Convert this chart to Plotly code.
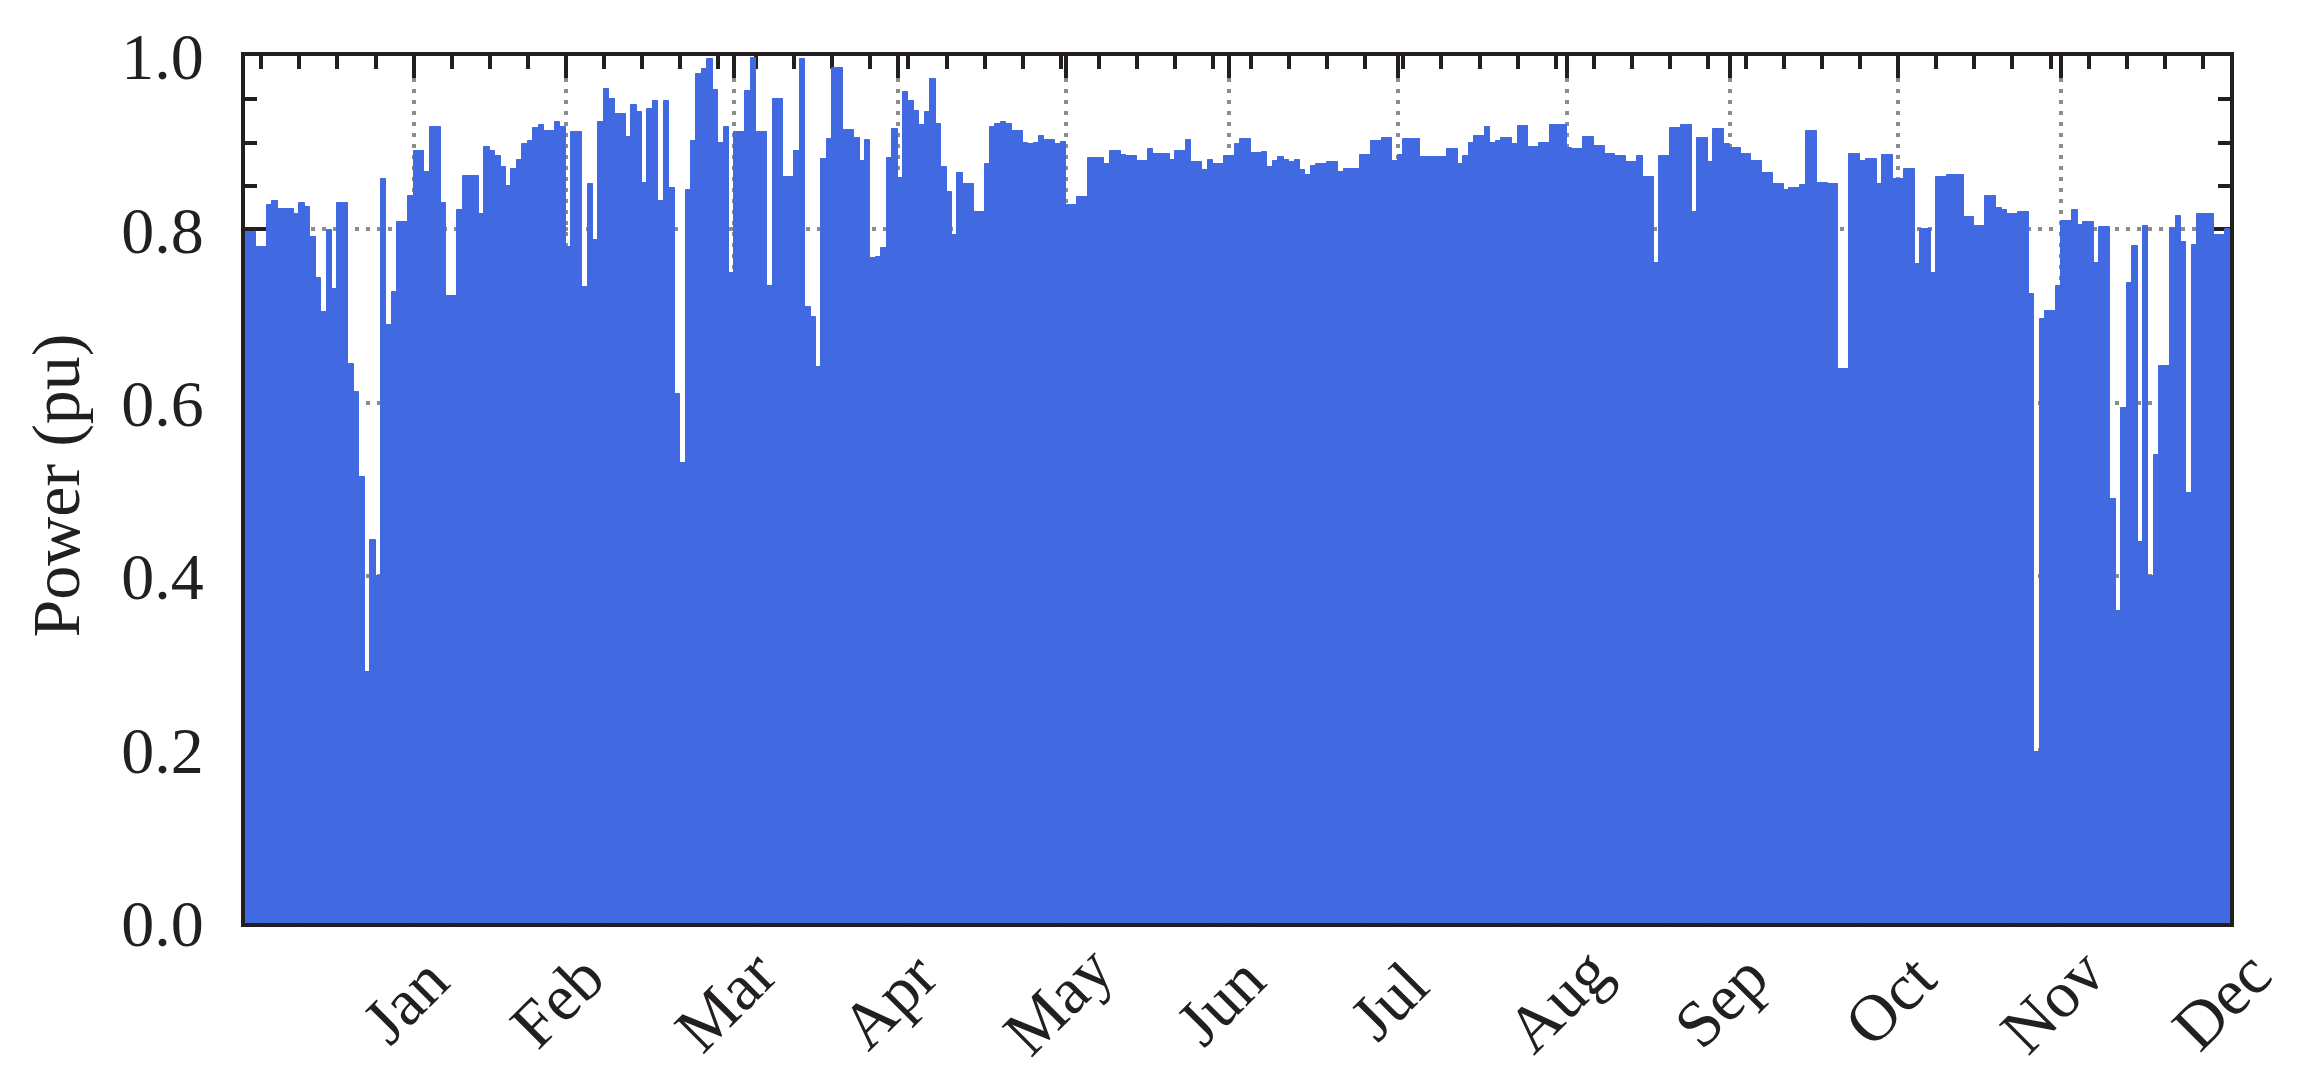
import pandas as pd
import plotly.graph_objects as go

# Daily peak power (pu), one list per month (2021, non-leap)
jan = [0.797, 0.797, 0.78, 0.78, 0.828, 0.833, 0.824, 0.824, 0.824, 0.818, 0.831, 0.826, 0.791, 0.744, 0.705,
       0.799, 0.731, 0.831, 0.831, 0.645, 0.613, 0.514, 0.29, 0.442, 0.40, 0.858, 0.69, 0.728, 0.809, 0.809, 0.838]
feb = [0.89, 0.89, 0.866, 0.918, 0.918, 0.831, 0.723, 0.723, 0.822, 0.862, 0.862, 0.862, 0.818, 0.895,
       0.89, 0.885, 0.872, 0.85, 0.87, 0.88, 0.898, 0.902, 0.917, 0.92, 0.913, 0.913, 0.924, 0.918]
mar = [0.78, 0.912, 0.912, 0.734, 0.852, 0.788, 0.924, 0.962, 0.95, 0.933, 0.933, 0.907, 0.944, 0.935, 0.854,
       0.939, 0.948, 0.833, 0.948, 0.848, 0.61, 0.53, 0.845, 0.902, 0.979, 0.985, 0.996, 0.961, 0.9, 0.918, 0.75]
apr = [0.912, 0.912, 0.96, 0.998, 0.912, 0.912, 0.735, 0.95, 0.95, 0.861, 0.861, 0.891, 0.996, 0.711, 0.699,
       0.641, 0.881, 0.904, 0.986, 0.986, 0.915, 0.915, 0.905, 0.879, 0.903, 0.767, 0.768, 0.778, 0.882, 0.916]
may = [0.859, 0.959, 0.948, 0.937, 0.92, 0.935, 0.974, 0.922, 0.872, 0.843, 0.794, 0.865, 0.852, 0.852, 0.82,
       0.82, 0.876, 0.918, 0.922, 0.924, 0.922, 0.914, 0.914, 0.9, 0.898, 0.9, 0.908, 0.903, 0.903, 0.899, 0.901]
jun = [0.828, 0.828, 0.837, 0.837, 0.882, 0.882, 0.882, 0.876, 0.891, 0.891, 0.886, 0.885, 0.885, 0.879, 0.879,
       0.893, 0.887, 0.887, 0.887, 0.88, 0.891, 0.891, 0.903, 0.878, 0.878, 0.868, 0.88, 0.875, 0.875, 0.885]
jul = [0.885, 0.899, 0.904, 0.904, 0.888, 0.888, 0.889, 0.872, 0.879, 0.884, 0.88, 0.878, 0.88, 0.868, 0.863,
       0.873, 0.875, 0.875, 0.878, 0.878, 0.866, 0.87, 0.87, 0.87, 0.886, 0.886, 0.902, 0.902, 0.906, 0.906, 0.879]
aug = [0.886, 0.904, 0.904, 0.904, 0.884, 0.884, 0.883, 0.883, 0.883, 0.893, 0.893, 0.875, 0.885, 0.9, 0.908,
       0.908, 0.918, 0.90, 0.902, 0.906, 0.906, 0.898, 0.919, 0.919, 0.895, 0.895, 0.9, 0.9, 0.92, 0.92, 0.92]
sep = [0.894, 0.893, 0.893, 0.907, 0.907, 0.896, 0.896, 0.887, 0.887, 0.885, 0.885, 0.878, 0.878, 0.885, 0.861,
       0.861, 0.761, 0.885, 0.885, 0.917, 0.917, 0.92, 0.92, 0.82, 0.905, 0.905, 0.878, 0.916, 0.916, 0.899]
oct_ = [0.894, 0.894, 0.887, 0.887, 0.879, 0.879, 0.865, 0.865, 0.852, 0.852, 0.845, 0.848, 0.848, 0.851, 0.913,
        0.913, 0.854, 0.854, 0.852, 0.852, 0.639, 0.639, 0.887, 0.887, 0.879, 0.881, 0.881, 0.852, 0.886, 0.886, 0.858]
nov = [0.858, 0.87, 0.87, 0.76, 0.8, 0.8, 0.75, 0.861, 0.861, 0.863, 0.863, 0.863, 0.814, 0.814, 0.804,
       0.804, 0.838, 0.838, 0.825, 0.822, 0.818, 0.818, 0.82, 0.82, 0.725, 0.197, 0.697, 0.706, 0.706, 0.735]
dec = [0.81, 0.81, 0.822, 0.805, 0.809, 0.809, 0.761, 0.803, 0.803, 0.489, 0.36, 0.594, 0.738, 0.781, 0.439,
       0.804, 0.40, 0.54, 0.642, 0.642, 0.802, 0.815, 0.786, 0.496, 0.782, 0.818, 0.818, 0.818, 0.794, 0.794, 0.8]

month_labels = ["Jan", "Feb", "Mar", "Apr", "May", "Jun", "Jul", "Aug", "Sep", "Oct", "Nov", "Dec"]
month_ticks = ["2021-02-01", "2021-03-01", "2021-04-01", "2021-05-01", "2021-06-01", "2021-07-01",
               "2021-08-01", "2021-09-01", "2021-10-01", "2021-11-01", "2021-12-01", "2022-01-01"]
y_ticks = [0.0, 0.2, 0.4, 0.6, 0.8, 1.0]

power = jan + feb + mar + apr + may + jun + jul + aug + sep + oct_ + nov + dec
days = pd.date_range("2021-01-01 12:00", periods=len(power), freq="D")

BLUE = "#4169E1"
INK = "#231f20"
GRID = "#8c8c8c"
FONT = "Liberation Serif, Times New Roman, serif"
FS = 66

fig = go.Figure()
fig.add_trace(go.Bar(x=days, y=power, width=86400000, marker=dict(color=BLUE, line=dict(color=BLUE, width=1)),
                     hoverinfo="x+y"))

axis_common = dict(showline=True, linewidth=4, linecolor=INK, mirror="ticks", ticks="inside",
                   ticklen=22, tickwidth=4, tickcolor=INK, showgrid=True, gridcolor=GRID,
                   gridwidth=3.5, griddash="4px,7px", layer="below traces", zeroline=False)

fig.update_xaxes(type="date", range=["2021-01-01", "2022-01-01"], tickvals=month_ticks,
                 showticklabels=False,
                 minor=dict(tick0="2021-01-04", dtick=7 * 86400000, ticks="inside", ticklen=13,
                            tickwidth=4, tickcolor=INK, showgrid=False),
                 **axis_common)
fig.update_yaxes(range=[0, 1], tickvals=y_ticks, ticktext=[f"{v:.1f}" for v in y_ticks],
                 tickfont=dict(family=FONT, size=FS, color=INK), ticklabelstandoff=24,
                 minor=dict(dtick=0.05, ticks="inside", ticklen=12, tickwidth=4, tickcolor=INK,
                            showgrid=False),
                 **axis_common)

annotations = []
for lab, tv in zip(month_labels, month_ticks):
    annotations.append(dict(x=tv, y=-0.089, xref="x", yref="paper", text=lab, showarrow=False,
                            textangle=-45, xanchor="center", yanchor="middle", xshift=-9,
                            font=dict(family=FONT, size=FS, color=INK)))
annotations.append(dict(x=-0.095, y=0.505, xref="paper", yref="paper", text="Power (pu)", showarrow=False,
                        textangle=-90, xanchor="center", yanchor="middle",
                        font=dict(family=FONT, size=FS + 2, color=INK)))

fig.update_layout(width=2301, height=1087, margin=dict(l=237, r=79, t=44, b=172),
                  plot_bgcolor="white", paper_bgcolor="white", bargap=0, showlegend=False,
                  font=dict(family=FONT, size=FS, color=INK), annotations=annotations)

fig.write_html("out.html")
